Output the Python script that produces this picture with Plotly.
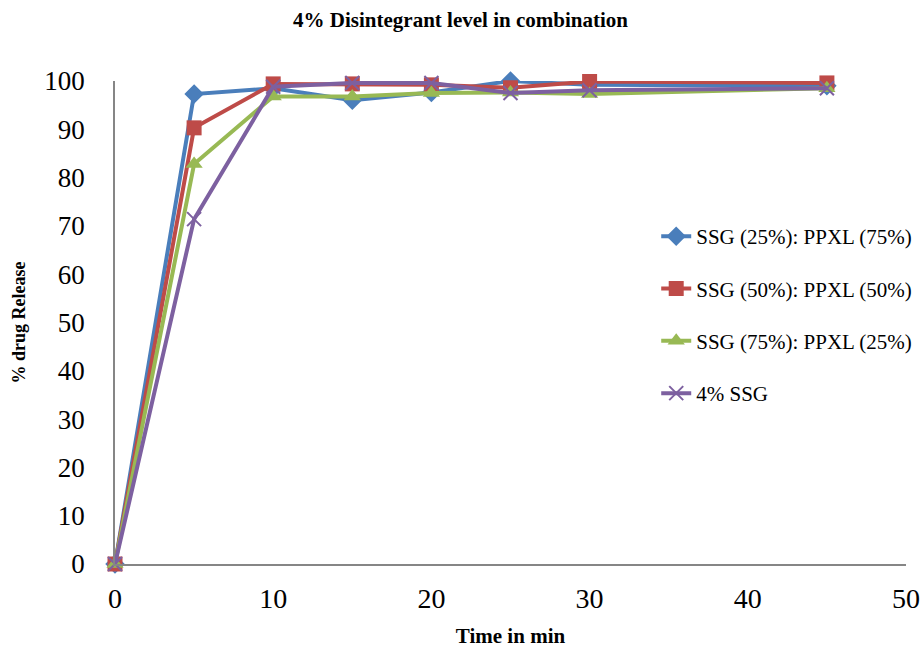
import plotly.graph_objects as go

time_min = [0, 5, 10, 15, 20, 25, 30, 45]
series_names = ["SSG (25%): PPXL (75%)", "SSG (50%): PPXL (50%)", "SSG (75%): PPXL (25%)", "4% SSG"]
ssg25 = [0, 97.3, 98.5, 96.0, 97.6, 100.0, 99.2, 99.0]
ssg50 = [0, 90.3, 99.4, 99.4, 99.2, 98.6, 99.9, 99.6]
ssg75 = [0, 82.8, 96.8, 96.8, 97.5, 97.6, 97.3, 98.5]
ssg4 = [0, 71.4, 98.8, 99.6, 99.6, 97.5, 98.1, 98.5]

colors = ["#4A7EBB", "#BE4B48", "#98B954", "#7D60A0"]
symbols = ["diamond", "square", "triangle-up", "x-thin"]
sizes = [15, 15, 15, 14]
values = [ssg25, ssg50, ssg75, ssg4]

fig = go.Figure()
for i, (name, vals) in enumerate(zip(series_names, values)):
    marker = dict(symbol=symbols[i], size=sizes[i], color=colors[i])
    if symbols[i] == "x-thin":
        marker["line"] = dict(color=colors[i], width=2)
    fig.add_trace(go.Scatter(
        x=time_min, y=vals, name=name, mode="lines+markers",
        line=dict(color=colors[i], width=4),
        marker=marker, cliponaxis=False, legendgroup=str(i),
    ))

font_family = "Liberation Serif, Times New Roman, serif"
fig.update_layout(
    width=921, height=649,
    margin=dict(l=115, r=15, t=81, b=85, autoexpand=False),
    paper_bgcolor="white", plot_bgcolor="white",
    font=dict(family=font_family, color="black"),
    title=dict(text="<b>4% Disintegrant level in combination</b>", x=0.5, xanchor="center",
               y=1 - 20 / 649, yanchor="middle", font=dict(size=21, family=font_family)),
    showlegend=True,
    legend=dict(xref="container", yref="container", x=0.7125, y=0.667, xanchor="left", yanchor="top",
                font=dict(size=21, family=font_family),
                traceorder="grouped", tracegroupgap=22, bgcolor="rgba(0,0,0,0)"),
    xaxis=dict(range=[0, 50], dtick=10, showgrid=False, zeroline=False, showline=True,
               linecolor="#868686", linewidth=1.5, ticks="", tickfont=dict(size=28),
               ticklabelstandoff=9, automargin=False,
               title=dict(text="<b>Time in min</b>", font=dict(size=21), standoff=15)),
    yaxis=dict(range=[0, 100], dtick=10, showgrid=False, zeroline=False, showline=True,
               linecolor="#868686", linewidth=1.5, ticks="", tickfont=dict(size=27),
               ticklabelstandoff=23, automargin=False,
               title=dict(text="<b>% drug Release</b>", font=dict(size=18), standoff=14)),
)
fig.write_html("out.html")
